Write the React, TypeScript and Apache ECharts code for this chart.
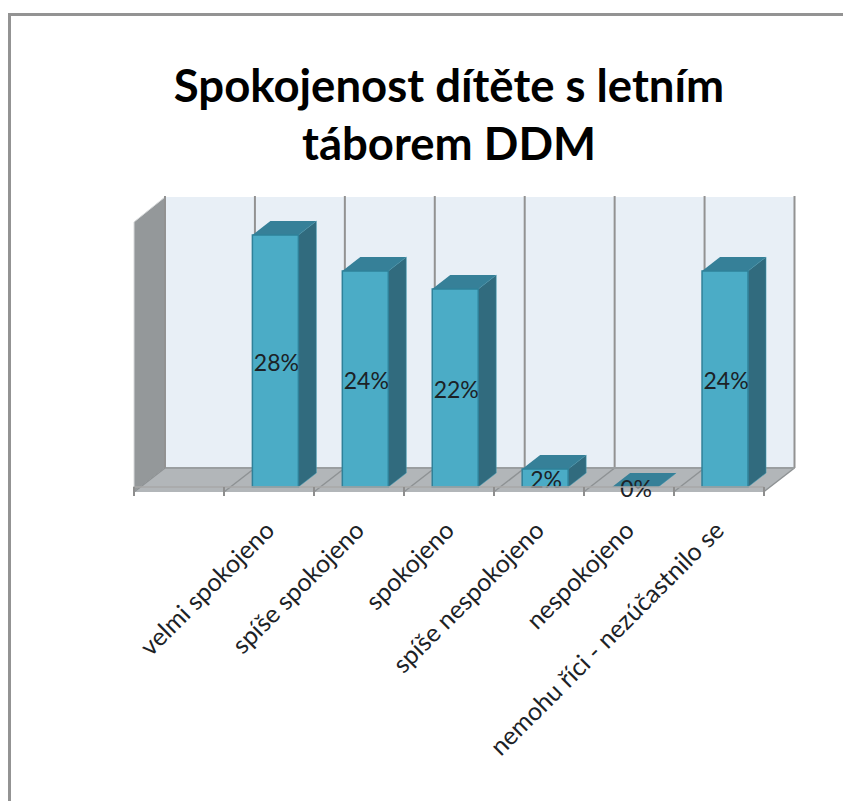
import React, { useEffect, useRef } from "react";
import * as echarts from "echarts";

const titleText = "Spokojenost dítěte s letním\ntáborem DDM";
const categories = [
  "",
  "velmi spokojeno",
  "spíše spokojeno",
  "spokojeno",
  "spíše nespokojeno",
  "nespokojeno",
  "nemohu říci - nezúčastnilo se",
];
const values: (number | null)[] = [null, 28, 24, 22, 2, 0, 24];

const FONT = "Lato, 'Noto Sans', sans-serif";
const DEPTH_X = 18;
const DEPTH_Y = 14;
const BAR_W = 46;
const BAR_SHIFT = 6.5;
const WALL_X = 31;
const WALL_Y = 24;

export default function App() {
  const ref = useRef<HTMLDivElement>(null);
  useEffect(() => {
    document.body.style.margin = "0";
    const chart = echarts.init(ref.current!, null, { renderer: "svg" });

    const renderWalls = (params: any) => {
      const g = params.coordSys;
      const left = g.x;
      const right = g.x + g.width;
      const front = g.y + g.height;
      const backBottom = front - WALL_Y;
      const backTop = 197;
      const band = g.width / categories.length;
      const children: any[] = [
        { type: "polygon", shape: { points: [[left + WALL_X, backTop], [right + WALL_X, backTop], [right + WALL_X, backBottom], [left + WALL_X, backBottom]] }, style: { fill: "#E8EFF6" } },
        { type: "polygon", shape: { points: [[left, backTop + WALL_Y + 1], [left + WALL_X, backTop], [left + WALL_X, backBottom], [left, front]] }, style: { fill: "#94989A", stroke: "#D8DADB", lineWidth: 1 } },
        { type: "polygon", shape: { points: [[left, front], [left + WALL_X, backBottom], [right + WALL_X, backBottom], [right, front]] }, style: { fill: "#B2B6B9" } },
      ];
      for (let i = 1; i <= categories.length; i++) {
        const bx = left + i * band + WALL_X;
        children.push({ type: "line", shape: { x1: bx, y1: backTop - 1, x2: bx, y2: backBottom }, style: { stroke: "#929292", lineWidth: 2 } });
      }
      for (let i = 0; i <= categories.length; i++) {
        const fx = left + i * band;
        children.push({ type: "line", shape: { x1: fx, y1: front, x2: fx + WALL_X, y2: backBottom }, style: { stroke: "#8E9294", lineWidth: 1.5 } });
      }
      children.push({ type: "line", shape: { x1: left + WALL_X, y1: backBottom, x2: right + WALL_X, y2: backBottom }, style: { stroke: "#9A9EA0", lineWidth: 2 } });
      children.push({ type: "line", shape: { x1: left + WALL_X, y1: backTop - 1, x2: left + WALL_X, y2: backBottom }, style: { stroke: "#929292", lineWidth: 2 } });
      return { type: "group", children };
    };

    const renderBar = (_params: any, api: any) => {
      const idx = api.value(0);
      const val = api.value(1);
      const [cx, top] = api.coord([idx, val]);
      const [, bottom] = api.coord([idx, 0]);
      const l = cx + BAR_SHIFT - BAR_W / 2;
      const r = l + BAR_W;
      const children: any[] = [];
      children.push({
        type: "polygon",
        shape: { points: [[r, top], [r + DEPTH_X, top - DEPTH_Y], [r + DEPTH_X, bottom - DEPTH_Y], [r, bottom]] },
        style: { fill: "#316B7E", stroke: "#47A0B8", lineWidth: 0.5 },
      });
      children.push({
        type: "polygon",
        shape: { points: [[l, top], [l + DEPTH_X, top - DEPTH_Y], [r + DEPTH_X, top - DEPTH_Y], [r, top]] },
        style: { fill: "#368098" },
      });
      if (val > 0) {
        children.push({
          type: "rect",
          shape: { x: l, y: top, width: BAR_W, height: bottom - top },
          style: { fill: "#4BACC6", stroke: "#2F8199", lineWidth: 1.5 },
        });
      }
      children.push({
        type: "text",
        style: {
          x: l + BAR_W / 2 + 1,
          y: (top + bottom) / 2 + 1,
          text: `${val}%`,
          fill: "#1C2226",
          font: `23px ${FONT}`,
          align: "center",
          verticalAlign: "middle",
        },
      });
      return { type: "group", children };
    };

    chart.setOption({
      animation: false,
      backgroundColor: "#FFFFFF",
      title: {
        text: titleText,
        left: 444,
        top: 50,
        textAlign: "center",
        textStyle: { fontFamily: FONT, fontSize: 45.5, fontWeight: "bold", color: "#000000", lineHeight: 58 },
      },
      graphic: [
        {
          type: "polyline",
          z: 100,
          shape: { points: [[9.5, 801], [9.5, 14.5], [843, 14.5]] },
          style: { stroke: "#939393", lineWidth: 3, fill: "none" },
        },
      ],
      grid: { left: 134, top: 217, width: 629.5, height: 275 },
      xAxis: {
        type: "category",
        data: categories,
        z: 5,
        axisLine: { show: true, lineStyle: { color: "#A8A8A8", width: 1.5 } },
        axisTick: { show: true, alignWithLabel: false, interval: 0, length: 9, lineStyle: { color: "#8E8E8E", width: 2 } },
        axisLabel: { interval: 0, rotate: 45, margin: 33, fontFamily: FONT, fontSize: 25, color: "#1C2226" },
      },
      yAxis: { type: "value", min: -5 / 9, max: 30, show: false, splitLine: { show: false } },
      series: [
        { type: "custom", name: "walls", data: [[0, 0]], z: 1, silent: true, renderItem: renderWalls, tooltip: { show: false } },
        {
          type: "custom",
          name: "Spokojenost",
          z: 3,
          data: values.map((v, i) => (v === null ? null : [i, v])).filter(Boolean),
          encode: { x: 0, y: 1 },
          renderItem: renderBar,
        },
      ],
    });
    return () => chart.dispose();
  }, []);
  return <div ref={ref} style={{ position: "absolute", left: 0, top: 0, width: 843, height: 801 }} />;
}
